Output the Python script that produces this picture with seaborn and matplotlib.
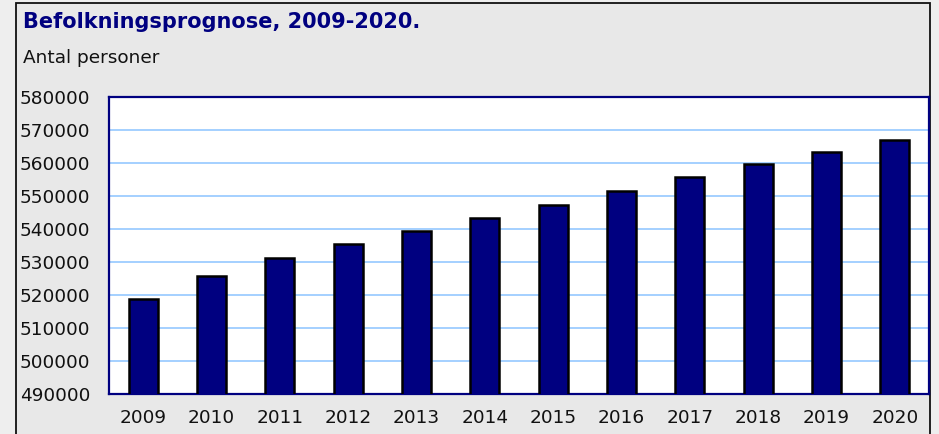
import matplotlib
matplotlib.use("Agg")
import matplotlib.pyplot as plt
from matplotlib.patches import Rectangle
import seaborn as sns
import pandas as pd

years = ["2009", "2010", "2011", "2012", "2013", "2014",
         "2015", "2016", "2017", "2018", "2019", "2020"]
population = [518800, 525900, 531300, 535600, 539400, 543400,
              547400, 551600, 555700, 559800, 563400, 567000]
yticks = [490000, 500000, 510000, 520000, 530000, 540000,
          550000, 560000, 570000, 580000]
title = "Befolkningsprognose, 2009-2020."
ylabel = "Antal personer"

sns.set_style("white")
plt.rcParams['font.family'] = ['DejaVu Sans']

W, H = 939, 434
fig = plt.figure(figsize=(W / 100, H / 100), dpi=100)
fig.patch.set_facecolor("#EEEEEE")

# outer box
box = Rectangle((16 / W, -0.05), (930 - 16) / W, 1.05 - 3 / H,
                transform=fig.transFigure, facecolor="#E8E8E8",
                edgecolor="#111111", linewidth=1.3, zorder=-5)
fig.add_artist(box)

ax = fig.add_axes([109 / W, 40 / H, (929 - 109) / W, (394 - 97) / H])
ax.set_zorder(2)
df = pd.DataFrame({"year": years, "pop": population})
sns.barplot(data=df, x="year", y="pop", color="#000080", width=0.42,
            edgecolor="black", linewidth=1.8, saturation=1, ax=ax, zorder=3)
for p in ax.patches:
    p.set_facecolor("#000080")

ax.set_facecolor("white")
ax.set_ylim(yticks[0], yticks[-1])
ax.set_yticks(yticks)
ax.set_yticklabels([str(v) for v in yticks], fontsize=13.3, color="#111111")
for lab in ax.get_yticklabels():
    lab.set_horizontalalignment("left")
ax.tick_params(axis="y", length=0, pad=(109 - 20) * 0.72)
ax.tick_params(axis="x", length=0, pad=11, labelsize=13.3, labelcolor="#111111")
ax.set_xlabel("")
ax.set_ylabel("")
ax.yaxis.grid(True, color="#8CC4FF", linewidth=1.1, zorder=1)
ax.set_axisbelow(True)
for s in ax.spines.values():
    s.set_visible(True)
    s.set_color("#000080")
    s.set_linewidth(1.6)

fig.text(23 / W, 1 - 28 / H, title, fontsize=15, fontweight="bold",
         color="#000080", va="baseline", ha="left")
fig.text(23 / W, 1 - 63 / H, ylabel, fontsize=13.3, color="#111111",
         va="baseline", ha="left")

fig.savefig("out.png", dpi=100, facecolor=fig.get_facecolor())
